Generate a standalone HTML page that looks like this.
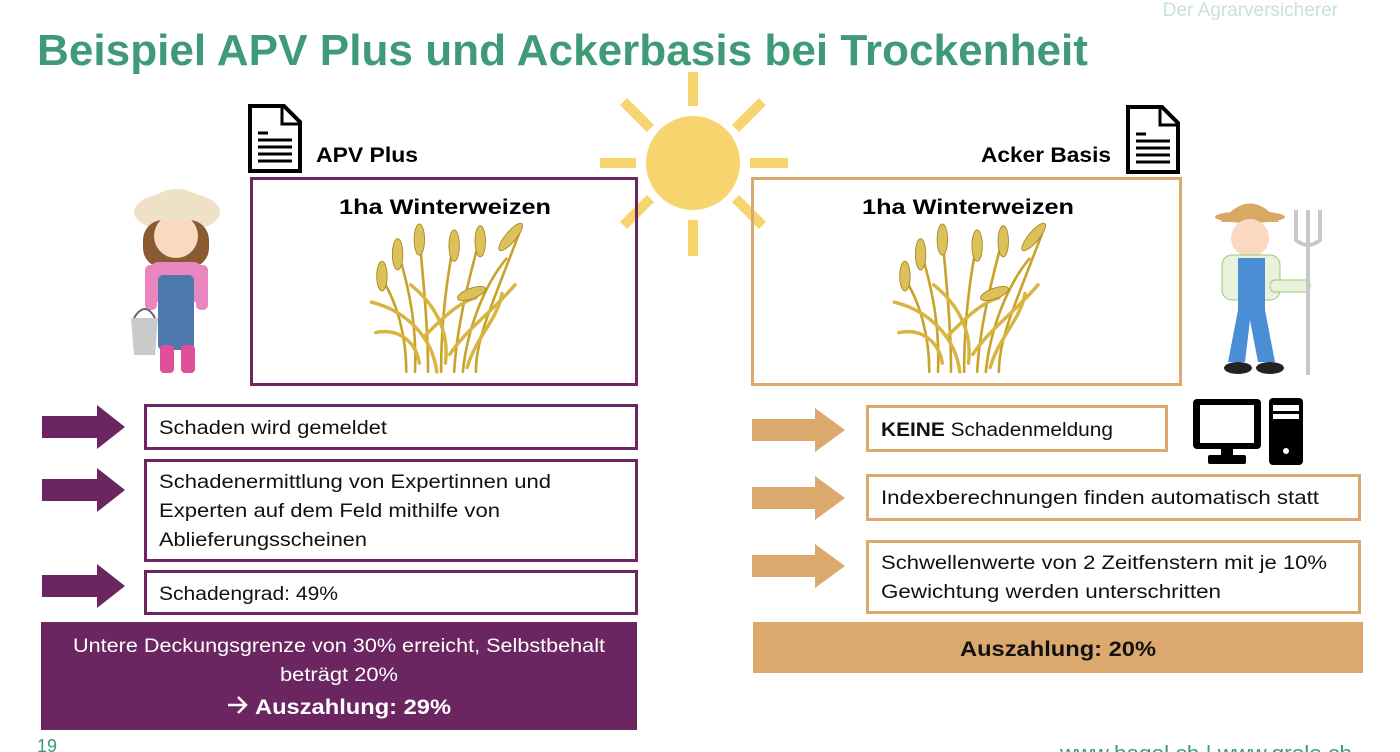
<!DOCTYPE html>
<html><head><meta charset="utf-8"><style>
html,body{margin:0;padding:0;background:#fff;overflow:hidden}
svg{display:block;font-family:"Liberation Sans",sans-serif}
</style></head><body>
<svg width="1400" height="752" viewBox="0 0 1400 752" xmlns="http://www.w3.org/2000/svg">
<defs>
<g id="wheat" fill="none" stroke="#c9a22a" stroke-width="3" stroke-linecap="round">
  <path d="M0 140 C2 90 -5 50 -20 0"/>
  <path d="M15 140 C15 90 10 40 5 -15"/>
  <path d="M30 140 C30 90 35 40 45 -10"/>
  <path d="M45 140 C48 90 60 40 75 -15"/>
  <path d="M55 140 C60 90 80 40 105 10"/>
  <path d="M-10 140 C-10 100 -20 60 -40 30"/>
  <path d="M70 140 C70 100 90 60 120 -20"/>
  <path d="M25 140 C20 100 -10 70 -50 60" stroke-width="4" stroke="#d8b440"/>
  <path d="M40 120 C60 90 90 70 115 40" stroke-width="4" stroke="#d8b440"/>
  <path d="M10 100 C30 80 50 60 70 55" stroke-width="4" stroke="#d8b440"/>
  <path d="M35 130 C40 90 20 60 -5 40" stroke-width="4" stroke="#d8b440"/>
  <path d="M60 135 C70 100 95 80 100 50" stroke-width="4" stroke="#d8b440"/>
  <path d="M5 130 C0 100 -25 90 -45 95" stroke-width="4" stroke="#d8b440"/>
  <g fill="#dcc05a" stroke="#a7851d" stroke-width="1">
    <ellipse cx="-20" cy="5" rx="6" ry="18"/>
    <ellipse cx="5" cy="-12" rx="6" ry="18"/>
    <ellipse cx="45" cy="-5" rx="6" ry="18"/>
    <ellipse cx="75" cy="-10" rx="6" ry="18"/>
    <ellipse cx="110" cy="-15" rx="6" ry="20" transform="rotate(40 110 -15)"/>
    <ellipse cx="-38" cy="30" rx="6" ry="17"/>
    <ellipse cx="65" cy="50" rx="6" ry="17" transform="rotate(70 65 50)"/>
  </g>
</g>
<g id="doc">
  <path d="M0 0 H34 L50 16 V65 H0 Z" fill="#fff" stroke="#000" stroke-width="4"/>
  <path d="M32 2 V18 H48" fill="none" stroke="#000" stroke-width="3"/>
  <g stroke="#000" stroke-width="3"><line x1="8" y1="27" x2="18" y2="27"/><line x1="8" y1="34" x2="42" y2="34"/><line x1="8" y1="41" x2="42" y2="41"/><line x1="8" y1="48" x2="42" y2="48"/><line x1="8" y1="55" x2="42" y2="55"/></g>
</g>
<path id="arrP" d="M0 -11 H55 V-22 L83 0 L55 22 V11 H0 Z"/>
<path id="arrT" d="M0 -11 H63 V-22 L93 0 L63 22 V11 H0 Z"/>
</defs>

<text x="1338" y="16" font-size="19" fill="#c6e3d6" text-anchor="end">Der Agrarversicherer</text>
<text x="37" y="65" font-size="44" font-weight="bold" fill="#3f9a78" textLength="1051" lengthAdjust="spacingAndGlyphs">Beispiel APV Plus und Ackerbasis bei Trockenheit</text>

<!-- sun -->
<g fill="#f7d46e">
<circle cx="693" cy="163" r="47"/>
<rect x="688" y="72" width="10" height="34"/><rect x="688" y="220" width="10" height="36"/>
<rect x="600" y="158" width="36" height="10"/><rect x="750" y="158" width="38" height="10"/>
<rect x="618" y="110" width="38" height="10" transform="rotate(45 637 115)"/>
<rect x="730" y="110" width="38" height="10" transform="rotate(-45 749 115)"/>
<rect x="618" y="207" width="38" height="10" transform="rotate(-45 637 212)"/>
<rect x="730" y="207" width="38" height="10" transform="rotate(45 749 212)"/>
</g>

<use href="#doc" x="250" y="106"/>
<use href="#doc" x="1128" y="107"/>
<text x="316" y="162" font-size="21" font-weight="bold" textLength="102" lengthAdjust="spacingAndGlyphs">APV Plus</text>
<text x="1111" y="162" font-size="21" font-weight="bold" text-anchor="end" textLength="130" lengthAdjust="spacingAndGlyphs">Acker Basis</text>

<rect x="251.5" y="178.5" width="385" height="206" fill="none" stroke="#6b2560" stroke-width="3"/>
<rect x="752.5" y="178.5" width="428" height="206" fill="none" stroke="#dba96e" stroke-width="3"/>
<text x="445" y="214" font-size="21" font-weight="bold" text-anchor="middle" textLength="212" lengthAdjust="spacingAndGlyphs">1ha Winterweizen</text>
<text x="968" y="214" font-size="21" font-weight="bold" text-anchor="middle" textLength="212" lengthAdjust="spacingAndGlyphs">1ha Winterweizen</text>
<g transform="translate(415,250) scale(0.87)"><use href="#wheat"/></g>
<g transform="translate(938,250) scale(0.87)"><use href="#wheat"/></g>

<!-- girl farmer -->
<g>
<ellipse cx="177" cy="212" rx="43" ry="20" fill="#eee1c8"/>
<rect x="143" y="220" width="66" height="48" rx="20" fill="#8a5a32"/>
<circle cx="176" cy="236" r="22" fill="#fbd9c0"/>
<ellipse cx="177" cy="205" rx="26" ry="16" fill="#eee1c8"/>
<rect x="150" y="262" width="52" height="40" rx="8" fill="#e985bf"/>
<rect x="145" y="265" width="12" height="45" rx="5" fill="#e985bf"/>
<rect x="196" y="265" width="12" height="45" rx="5" fill="#e985bf"/>
<rect x="158" y="275" width="36" height="75" rx="5" fill="#4e79ad"/>
<rect x="160" y="345" width="14" height="28" rx="4" fill="#e0509a"/>
<rect x="181" y="345" width="14" height="28" rx="4" fill="#e0509a"/>
<path d="M131 318 H158 L155 355 H134 Z" fill="#c9cbcb"/>
<path d="M134 318 Q145 300 155 318" fill="none" stroke="#666" stroke-width="2"/>
</g>

<!-- man farmer -->
<g>
<path d="M1221 222 Q1250 185 1279 222 Z" fill="#d9a865"/>
<ellipse cx="1250" cy="217" rx="35" ry="6" fill="#d9a865"/>
<circle cx="1250" cy="238" r="19" fill="#fbd9c0"/>
<rect x="1222" y="255" width="58" height="45" rx="10" fill="#e9f2dd" stroke="#9cc67c"/>
<rect x="1270" y="280" width="40" height="12" rx="5" fill="#e9f2dd" stroke="#9cc67c"/>
<path d="M1238 258 H1265 V310 L1275 362 H1258 L1250 320 L1245 362 H1228 L1238 310 Z" fill="#4c8ed6"/>
<ellipse cx="1238" cy="368" rx="14" ry="6" fill="#222"/><ellipse cx="1270" cy="368" rx="14" ry="6" fill="#222"/>
<g fill="none" stroke="#c8c8c8" stroke-width="4"><line x1="1308" y1="245" x2="1308" y2="375"/><path d="M1296 210 V240 Q1308 250 1320 240 V210"/><line x1="1308" y1="210" x2="1308" y2="245"/></g>
</g>

<!-- purple side -->
<g fill="#6b2560">
<use href="#arrP" x="42" y="427"/><use href="#arrP" x="42" y="490"/><use href="#arrP" x="42" y="586"/>
</g>
<g fill="none" stroke="#6b2560" stroke-width="3">
<rect x="145.5" y="405.5" width="491" height="43"/>
<rect x="145.5" y="460.5" width="491" height="100"/>
<rect x="145.5" y="571.5" width="491" height="42"/>
</g>
<g font-size="19" fill="#111">
<text x="159" y="434" textLength="228" lengthAdjust="spacingAndGlyphs">Schaden wird gemeldet</text>
<text x="159" y="488" textLength="392" lengthAdjust="spacingAndGlyphs">Schadenermittlung von Expertinnen und</text>
<text x="159" y="517" textLength="341" lengthAdjust="spacingAndGlyphs">Experten auf dem Feld mithilfe von</text>
<text x="159" y="546" textLength="208" lengthAdjust="spacingAndGlyphs">Ablieferungsscheinen</text>
<text x="159" y="600" textLength="179" lengthAdjust="spacingAndGlyphs">Schadengrad: 49%</text>
</g>
<rect x="41" y="622" width="596" height="108" fill="#6b2560"/>
<g fill="#fff" text-anchor="middle">
<text x="339" y="652" font-size="19" textLength="532" lengthAdjust="spacingAndGlyphs">Untere Deckungsgrenze von 30% erreicht, Selbstbehalt</text>
<text x="339" y="681" font-size="19" textLength="118" lengthAdjust="spacingAndGlyphs">beträgt 20%</text>
<text x="353" y="714" font-size="21" font-weight="bold" textLength="196" lengthAdjust="spacingAndGlyphs">Auszahlung: 29%</text>
</g>
<path d="M228 705 H246 M238 697 L246 705 L238 713" fill="none" stroke="#fff" stroke-width="2.5"/>

<!-- tan side -->
<g fill="#dba96e">
<use href="#arrT" x="752" y="430"/><use href="#arrT" x="752" y="498"/><use href="#arrT" x="752" y="566"/>
</g>
<g fill="none" stroke="#dba96e" stroke-width="3">
<rect x="867.5" y="406.5" width="299" height="44"/>
<rect x="867.5" y="475.5" width="492" height="44"/>
<rect x="867.5" y="541.5" width="492" height="71"/>
</g>
<g font-size="19" fill="#111">
<text x="881" y="436" textLength="232" lengthAdjust="spacingAndGlyphs"><tspan font-weight="bold">KEINE</tspan> Schadenmeldung</text>
<text x="881" y="504" textLength="438" lengthAdjust="spacingAndGlyphs">Indexberechnungen finden automatisch statt</text>
<text x="881" y="569" textLength="446" lengthAdjust="spacingAndGlyphs">Schwellenwerte von 2 Zeitfenstern mit je 10%</text>
<text x="881" y="598" textLength="340" lengthAdjust="spacingAndGlyphs">Gewichtung werden unterschritten</text>
</g>
<rect x="753" y="622" width="610" height="51" fill="#dba96e"/>
<text x="1058" y="656" font-size="21" font-weight="bold" text-anchor="middle" fill="#111" textLength="196" lengthAdjust="spacingAndGlyphs">Auszahlung: 20%</text>

<!-- computer -->
<g>
<rect x="1193" y="399" width="68" height="50" rx="4" fill="#000"/>
<rect x="1200" y="405" width="54" height="38" fill="#fff"/>
<rect x="1221" y="449" width="12" height="8" fill="#000"/><rect x="1208" y="455" width="38" height="9" rx="2" fill="#000"/>
<rect x="1269" y="398" width="34" height="67" rx="4" fill="#000"/>
<rect x="1273" y="405" width="26" height="6" fill="#fff"/><rect x="1273" y="414" width="26" height="5" fill="#fff"/>
<circle cx="1286" cy="451" r="3" fill="#fff"/>
</g>

<text x="37" y="752" font-size="18" fill="#3f9a78">19</text>
<text x="1352" y="760" font-size="20" fill="#3f9a78" text-anchor="end" textLength="292" lengthAdjust="spacingAndGlyphs">www.hagel.ch | www.grele.ch</text>
</svg>
</body></html>
